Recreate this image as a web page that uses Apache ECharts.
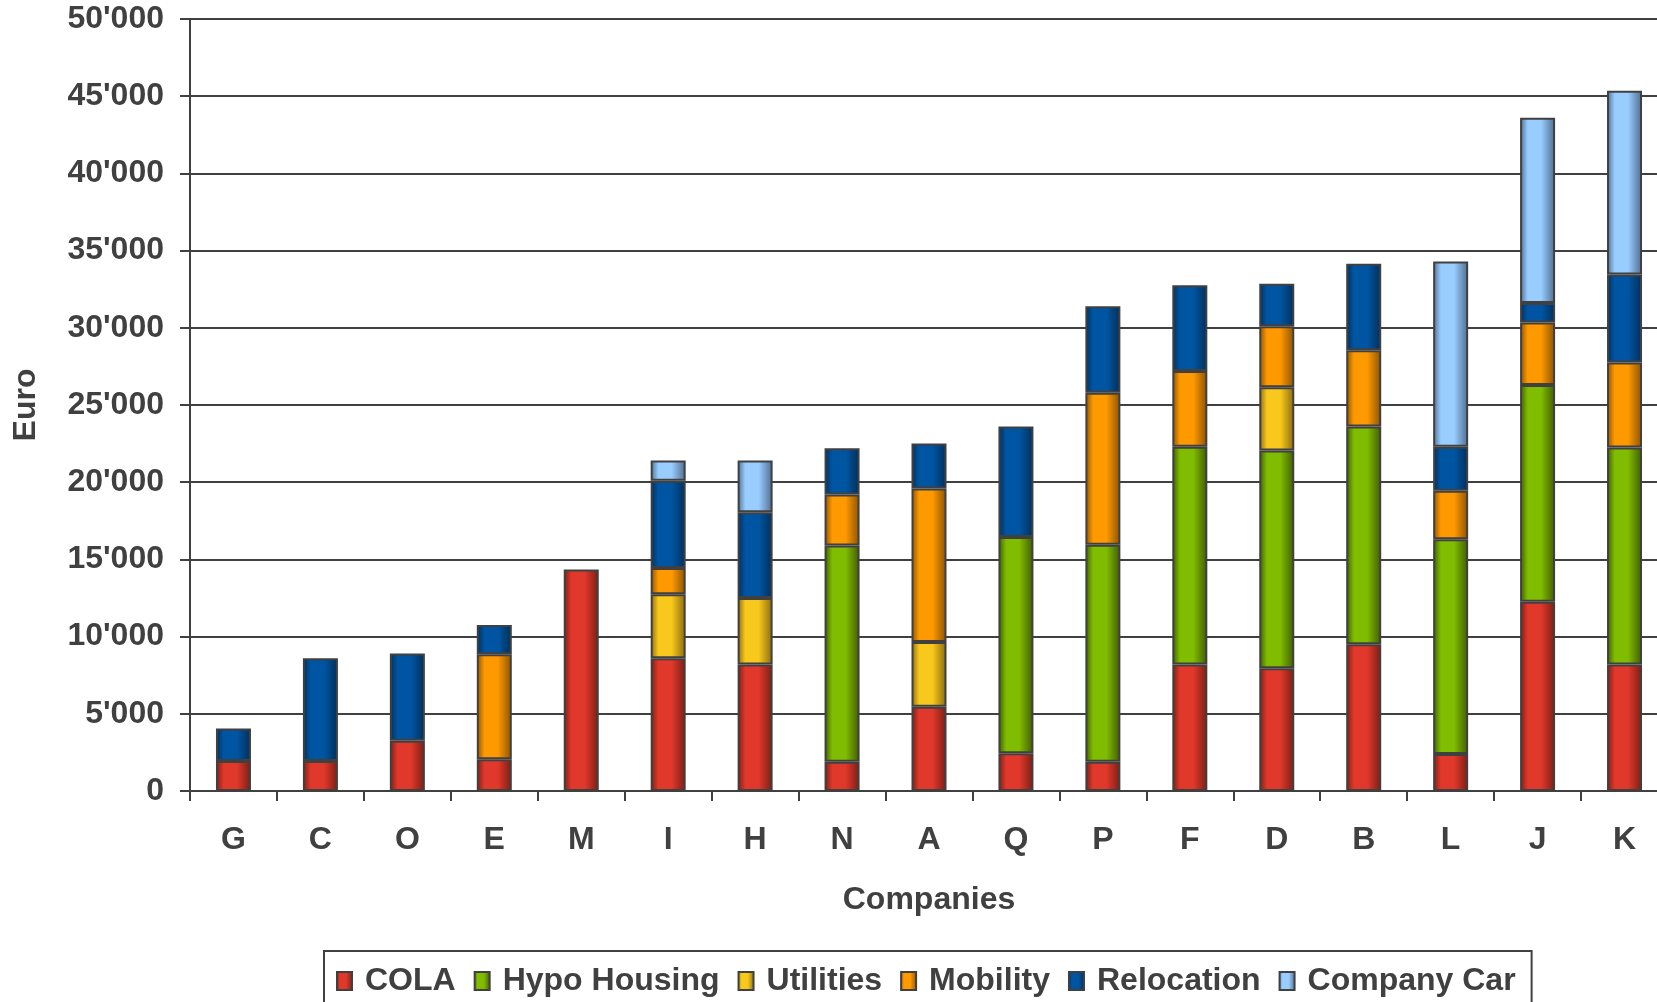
<!DOCTYPE html>
<html>
<head>
<meta charset="utf-8">
<script src="https://cdn.jsdelivr.net/npm/echarts@6/dist/echarts.min.js"></script>
<style>
html,body{margin:0;padding:0;background:#fff;}
#chart{width:1657px;height:1002px;}
</style>
</head>
<body>
<div id="chart"></div>
<script>
const categories = ['G','C','O','E','M','I','H','N','A','Q','P','F','D','B','L','J','K'];
const cola       = [1950,1950,3250,2050,14350,8600,8200,1900,5450,2450,1900,8200,7950,9500,2400,12250,8200];
const hypoHousing= [null,null,null,null,null,null,null,14000,null,14000,14050,14100,14100,14100,13900,14050,14050];
const utilities  = [null,null,null,null,null,4150,4300,null,4200,null,null,null,4100,null,null,null,null];
const mobility   = [null,null,null,6800,null,1700,null,3300,9950,null,9850,4900,3950,4950,3150,4050,5500];
const relocation = [2100,6650,5650,1900,null,5650,5550,3000,2900,7150,5600,5550,2750,5600,2850,1250,5700];
const companyCar = [null,null,null,null,null,1300,3350,null,null,null,null,null,null,null,12000,12000,11900];
const seriesNames = ['COLA','Hypo Housing','Utilities','Mobility','Relocation','Company Car'];
const yTicks = {min:0, max:50000, interval:5000};

const palette = [
  {base:'#E0382A', dark:'#7A1E14'},
  {base:'#80BC00', dark:'#3F5C00'},
  {base:'#F8C81C', dark:'#8A6A0E'},
  {base:'#FF9900', dark:'#8A5200'},
  {base:'#0055A2', dark:'#002F5A'},
  {base:'#99CCFF', dark:'#4E6C8E'}
];
function grad(p){
  return new echarts.graphic.LinearGradient(0,0,1,0,[
    {offset:0, color:p.dark},
    {offset:0.22, color:p.base},
    {offset:0.6, color:p.base},
    {offset:1, color:p.dark}
  ]);
}
const values = [cola, hypoHousing, utilities, mobility, relocation, companyCar];
const textColor = '#404040';

const chart = echarts.init(document.getElementById('chart'));
chart.setOption({
  animation:false,
  backgroundColor:'#ffffff',
  textStyle:{fontFamily:'Liberation Sans, Arial, sans-serif'},
  grid:{left:190, top:19, width:1478, height:772, containLabel:false, outerBoundsMode:'none'},
  legend:{
    left:324, top:951,
    padding:[14,16,14,12],
    borderColor:'#404040', borderWidth:2,
    icon:'rect',
    itemWidth:15, itemHeight:18, itemGap:18,
    formatter: n => '{t|' + n + '}',
    textStyle:{
      rich:{t:{padding:[0,0,0,8], fontSize:32, fontWeight:'bold', color:textColor, fontFamily:'Liberation Sans, Arial, sans-serif'}}
    },
    data: seriesNames.map((n,i)=>({name:n, icon:'rect', itemStyle:{color:grad(palette[i]), borderColor:'#404040', borderWidth:2}}))
  },
  xAxis:{
    type:'category',
    data:categories,
    boundaryGap:true,
    name:'Companies',
    nameLocation:'middle',
    nameGap:93,
    nameTextStyle:{fontSize:32, fontWeight:'bold', color:textColor},
    axisLine:{show:true, lineStyle:{color:'#404040', width:2}},
    axisTick:{show:true, length:10, alignWithLabel:false, lineStyle:{color:'#404040', width:2}},
    axisLabel:{fontSize:32, fontWeight:'bold', color:textColor, margin:33, interval:0},
    splitLine:{show:false}
  },
  yAxis:{
    type:'value',
    min:yTicks.min, max:yTicks.max, interval:yTicks.interval,
    name:'Euro',
    nameLocation:'middle',
    nameGap:148,
    nameTextStyle:{fontSize:32, fontWeight:'bold', color:textColor},
    axisLine:{show:true, lineStyle:{color:'#404040', width:2}},
    axisTick:{show:true, length:10, lineStyle:{color:'#404040', width:2}},
    axisLabel:{fontSize:32, fontWeight:'bold', color:textColor, margin:26,
      formatter: v => v===0 ? '0' : (v/1000) + "'000"},
    splitLine:{show:true, lineStyle:{color:'#404040', width:2}}
  },
  series: seriesNames.map((n,i)=>({
    name:n,
    type:'bar',
    stack:'total',
    barWidth:35,
    data:values[i],
    itemStyle:{color:grad(palette[i]), borderColor:'#404040', borderWidth:2}
  }))
});
</script>
</body>
</html>
